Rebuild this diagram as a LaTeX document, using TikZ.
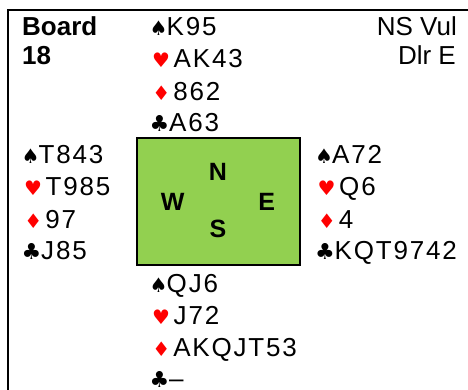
\documentclass[tikz,border=0pt]{standalone}
\usepackage{fontspec}
\setmainfont{Liberation Sans}
\newfontfamily\handfont[LetterSpace=7]{Liberation Sans}
\newfontfamily\suitfont{DejaVu Sans}
\definecolor{boardgreen}{HTML}{92D050}
\definecolor{suitred}{HTML}{FF0000}
% suit symbols, each followed by the gap before the cards
\newcommand\suitsize{\fontsize{20}{20}\selectfont}
\newcommand\SuitSp{\makebox[17pt][l]{\suitfont\suitsize ♠}}
\newcommand\SuitHe{\hspace{2.4pt}\makebox[21.6pt][l]{\suitfont\suitsize\color{suitred}♥}}
\newcommand\SuitDi{\hspace{2.6pt}\makebox[21pt][l]{\suitfont\suitsize\color{suitred}♦}}
\newcommand\SuitCl{\makebox[19.5pt][l]{\suitfont\fontsize{22}{22}\selectfont ♣}}
\begin{document}
\begin{tikzpicture}[x=1pt,y=-1pt,
  cards/.style={anchor=base west,inner sep=0pt,font=\handfont\fontsize{26}{26}\selectfont},
  info/.style={inner sep=0pt,font=\fontsize{26}{26}\selectfont},
  seat/.style={inner sep=0pt,font=\bfseries\fontsize{25}{25}\selectfont},
  tablebox/.style={draw,line width=2pt,fill=boardgreen,minimum width=162.7pt,minimum height=126.7pt,inner sep=0pt}]
\useasboundingbox (0,0) rectangle (468,390);
% frame
\draw[line width=2pt] (8.3,390) -- (8.3,10.3) -- (468,10.3);
% header
\node[info,anchor=base west,font=\bfseries\fontsize{26}{26}\selectfont] (board) at (22,36) {Board};
\node[info,anchor=base west,font=\bfseries\fontsize{26}{26}\selectfont] (boardno) at (22,65) {18};
\node[info,anchor=base east] (vul) at (457,36) {NS Vul};
\node[info,anchor=base east] (dlr) at (456,65) {Dlr E};
% table
\node[tablebox] (table) at (218.3,201.7) {};
\node[seat] (N) at (218,171.7) {N};
\node[seat] (W) at (172.7,201.7) {W};
\node[seat] (E) at (266.7,201.7) {E};
\node[seat] (S) at (218,229.3) {S};
% North
\node[cards] (n1) at (149.5,36) {\SuitSp K95};
\node[cards] (n2) at (149.5,68) {\SuitHe AK43};
\node[cards] (n3) at (149.5,101) {\SuitDi 862};
\node[cards] (n4) at (149.5,132) {\SuitCl A63};
% West
\node[cards] (w1) at (21.5,164) {\SuitSp T843};
\node[cards] (w2) at (21.5,196) {\SuitHe T985};
\node[cards] (w3) at (21.5,228) {\SuitDi 97};
\node[cards] (w4) at (21.5,259) {\SuitCl J85};
% East
\node[cards] (e1) at (315,164) {\SuitSp A72};
\node[cards] (e2) at (315,196) {\SuitHe Q6};
\node[cards] (e3) at (315,228) {\SuitDi 4};
\node[cards] (e4) at (315,259) {\SuitCl KQT9742};
% South
\node[cards] (s1) at (149.5,292.7) {\SuitSp QJ6};
\node[cards] (s2) at (149.5,324) {\SuitHe J72};
\node[cards] (s3) at (149.5,356) {\SuitDi AKQJT53};
\node[cards] (s4) at (149.5,387) {\SuitCl –};
\end{tikzpicture}
\end{document}
